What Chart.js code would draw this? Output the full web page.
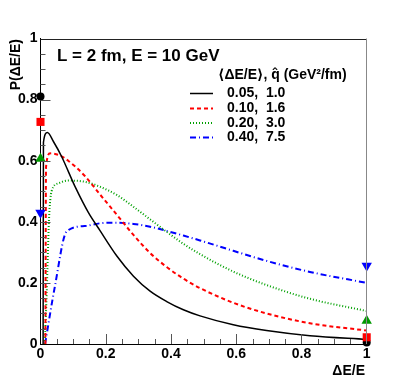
<!DOCTYPE html>
<html>
<head>
<meta charset="utf-8">
<script src="https://cdn.jsdelivr.net/npm/chart.js@4"></script>
<style>
  body { margin: 0; background: #fff; }
  #wrap { width: 407px; height: 383px; position: relative; }
</style>
</head>
<body>
<div id="wrap"><canvas id="chart"></canvas></div>
<script>
// curve data (dE/E on x, P(dE/E) on y)
const blackX = [0.008, 0.009, 0.021, 0.04, 0.065, 0.106, 0.147, 0.182, 0.234, 0.285, 0.336, 0.387, 0.438, 0.489, 0.591, 0.693, 0.826, 1.0];
const blackY = [0, 0.66, 0.692, 0.662, 0.613, 0.515, 0.43, 0.372, 0.288, 0.222, 0.173, 0.139, 0.112, 0.092, 0.063, 0.044, 0.027, 0.015];

const redX = [0.015, 0.017, 0.03, 0.06, 0.085, 0.136, 0.182, 0.234, 0.285, 0.336, 0.387, 0.438, 0.489, 0.591, 0.693, 0.826, 1.0];
const redY = [0, 0.58, 0.624, 0.617, 0.6, 0.55, 0.49, 0.423, 0.357, 0.298, 0.252, 0.214, 0.183, 0.135, 0.1, 0.068, 0.044];

const greenX = [0.013, 0.019, 0.026, 0.034, 0.055, 0.085, 0.136, 0.182, 0.234, 0.285, 0.336, 0.387, 0.438, 0.489, 0.591, 0.693, 0.826, 1.0];
const greenY = [0, 0.166, 0.406, 0.5, 0.526, 0.535, 0.531, 0.515, 0.488, 0.449, 0.408, 0.367, 0.328, 0.294, 0.237, 0.193, 0.148, 0.108];

const blueX = [0.014, 0.044, 0.08, 0.136, 0.182, 0.234, 0.285, 0.336, 0.387, 0.438, 0.489, 0.591, 0.693, 0.826, 1.0];
const blueY = [0, 0.188, 0.368, 0.386, 0.395, 0.397, 0.393, 0.384, 0.37, 0.355, 0.339, 0.305, 0.272, 0.236, 0.2];

// the end point weights at dE/E = 0 and dE/E = 1
const atZero = [0.81, 0.727, 0.606, 0.43];
const atOne = [0.005, 0.022, 0.076, 0.256];

const legendLabels = ['0.05,  1.0', '0.10,  1.6', '0.20,  3.0', '0.40,  7.5'];
const xTicks = [0, 0.2, 0.4, 0.6, 0.8, 1];
const yTicks = [0, 0.2, 0.4, 0.6, 0.8, 1];

const colors = ['#000000', '#ff0000', '#00a000', '#0000ff'];
const dashes = [[], [4, 3], [1, 2], [6, 3, 1, 3]];
const widths = [1.5, 2, 2, 2];

function toPoints(xs, ys) {
    return xs.map((x, i) => ({ x: x, y: ys[i] }));
}

const curves = [[blackX, blackY], [redX, redY], [greenX, greenY], [blueX, blueY]];
const pointStyles = [
    { style: 'circle', radius: 4, rotation: 0 },
    { style: 'rect', radius: 5.7, rotation: 0 },
    { style: 'triangle', radius: 6, rotation: 0 },
    { style: 'triangle', radius: 6, rotation: 180 }
];

const datasets = [];

/* markers first so they sit on top of the lines */
for (let i = 3; i >= 0; i--) {
    const ps = pointStyles[i];
    datasets.push({
        data: [{ x: 0, y: atZero[i] }, { x: 1, y: atOne[i] }],
        showLine: false,
        pointStyle: ps.style,
        pointRadius: ps.radius,
        rotation: ps.rotation,
        backgroundColor: i == 2 ? '#009900' : colors[i],
        borderColor: i == 2 ? '#009900' : colors[i],
        borderWidth: 0,
        clip: false
    });
}

for (let i = 0; i < 4; i++) {
    datasets.push({
        data: toPoints(curves[i][0], curves[i][1]),
        showLine: true,
        borderColor: colors[i],
        borderDash: dashes[i],
        borderWidth: widths[i],
        pointRadius: 0,
        cubicInterpolationMode: 'monotone'
    });
}

const FONT = '"Liberation Sans", "DejaVu Sans", sans-serif';

// draws the inside ticks, the frame and all the texts
const decorations = {
    id: 'decorations',
    afterDraw(chart) {
        const ctx = chart.ctx;
        const xs = chart.scales.x;
        const ys = chart.scales.y;
        const area = chart.chartArea;

        ctx.save();
        ctx.lineWidth = 1;

        // frame top + right
        ctx.strokeStyle = '#222';
        ctx.beginPath();
        ctx.moveTo(area.left, Math.round(area.top) + 0.5);
        ctx.lineTo(area.right, Math.round(area.top) + 0.5);
        ctx.stroke();
        ctx.strokeStyle = '#888';
        ctx.beginPath();
        ctx.moveTo(Math.round(area.right) - 0.5, area.top);
        ctx.lineTo(Math.round(area.right) - 0.5, area.bottom);
        ctx.stroke();

        // ticks every 0.05, longer ones on labels
        ctx.strokeStyle = '#555';
        for (let k = 1; k < 20; k++) {
            const v = k * 0.05;
            const big = k % 4 == 0;
            const px = Math.round(xs.getPixelForValue(v)) + 0.5;
            ctx.beginPath();
            ctx.moveTo(px, area.bottom);
            ctx.lineTo(px, area.bottom - (big ? 10 : 5));
            ctx.stroke();
            const py = Math.round(ys.getPixelForValue(v)) + 0.5;
            ctx.beginPath();
            ctx.moveTo(area.left, py);
            ctx.lineTo(area.left + (big ? 10 : 5), py);
            ctx.stroke();
        }

        ctx.fillStyle = '#000';
        ctx.textBaseline = 'middle';

        ctx.font = 'bold 17px ' + FONT;
        ctx.textAlign = 'left';
        ctx.fillText('L = 2 fm, E = 10 GeV', 57, 56);

        // legend
        ctx.font = 'bold 14px ' + FONT;
        ctx.fillText('\u27E8\u0394E/E\u27E9, q\u0302 (GeV\u00B2/fm)', 218, 75);
        const rows = [93.5, 108.5, 123, 137.5];
        for (let i = 0; i < 4; i++) {
            ctx.strokeStyle = colors[i];
            ctx.lineWidth = i == 0 ? 1.5 : 2;
            ctx.setLineDash(dashes[i]);
            ctx.beginPath();
            ctx.moveTo(190, rows[i]);
            ctx.lineTo(213, rows[i]);
            ctx.stroke();
            ctx.setLineDash([]);
            ctx.fillText(legendLabels[i], 227, rows[i]);
        }

        // axis titles
        ctx.textAlign = 'right';
        ctx.fillText('\u0394E/E', 365, 371);
        ctx.translate(16, 39);
        ctx.rotate(-Math.PI / 2);
        ctx.fillText('P(\u0394E/E)', 0, 0);
        ctx.restore();
    }
};

new Chart(document.getElementById('chart'), {
    type: 'scatter',
    data: { datasets: datasets },
    options: {
        responsive: true,
        maintainAspectRatio: false,
        animation: false,
        layout: { padding: { left: 0, right: 40.3, top: 38.5, bottom: 0 } },
        plugins: { legend: { display: false }, tooltip: { enabled: false } },
        scales: {
            x: {
                type: 'linear',
                min: 0,
                max: 1,
                afterFit: (s) => { s.height = 39; },
                afterBuildTicks: (s) => { s.ticks = xTicks.map(v => ({ value: v })); },
                grid: { display: false, drawTicks: false },
                border: { display: true, color: '#000', width: 1 },
                ticks: {
                    padding: 2,
                    color: '#000',
                    font: { family: FONT, size: 14, weight: 'bold' },
                    callback: (v) => String(v)
                }
            },
            y: {
                type: 'linear',
                min: 0,
                max: 1,
                afterFit: (s) => { s.width = 40.5; },
                afterBuildTicks: (s) => { s.ticks = yTicks.map(v => ({ value: v })); },
                grid: { display: false, drawTicks: false },
                border: { display: true, color: '#000', width: 1 },
                ticks: {
                    padding: 3,
                    color: '#000',
                    font: { family: FONT, size: 14, weight: 'bold' },
                    callback: (v) => String(v)
                }
            }
        }
    },
    plugins: [decorations]
});
</script>
</body>
</html>
